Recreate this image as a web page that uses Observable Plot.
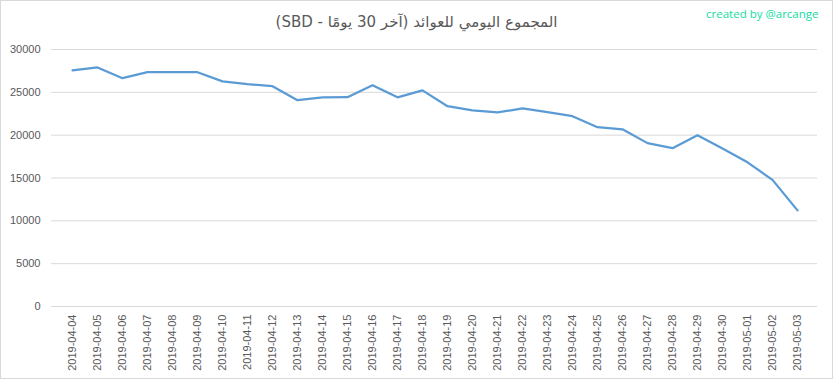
<!DOCTYPE html>
<html><head><meta charset="utf-8">
<script src="https://cdn.jsdelivr.net/npm/d3@7"></script>
<script src="https://cdn.jsdelivr.net/npm/@observablehq/plot@0.6"></script>
<style>
body{margin:0;background:#fff}
#chart svg{outline:1px solid #d9d9d9;outline-offset:-1px;display:block}
</style>
</head><body><div id="chart"></div>
<script>
const dates = ["2019-04-04","2019-04-05","2019-04-06","2019-04-07","2019-04-08","2019-04-09","2019-04-10","2019-04-11","2019-04-12","2019-04-13","2019-04-14","2019-04-15","2019-04-16","2019-04-17","2019-04-18","2019-04-19","2019-04-20","2019-04-21","2019-04-22","2019-04-23","2019-04-24","2019-04-25","2019-04-26","2019-04-27","2019-04-28","2019-04-29","2019-04-30","2019-05-01","2019-05-02","2019-05-03"];
const values = [27550,27900,26650,27350,27350,27350,26280,25950,25720,24080,24420,24430,25830,24420,25230,23380,22900,22650,23120,22700,22210,20930,20680,19070,18480,20000,18450,16830,14780,11220];
const yTicks = [0,5000,10000,15000,20000,25000,30000];
const title = "المجموع اليومي للعوائد (آخر 30 يومًا - SBD)";
const credit = "created by @arcange";

const data = dates.map((d, i) => ({date: d, value: values[i]}));

const chart = Plot.plot({
  width: 833,
  height: 379,
  marginTop: 49,
  marginBottom: 73,
  marginLeft: 51,
  marginRight: 16,
  style: {fontFamily: "'Liberation Sans', Arial, sans-serif", fontSize: "11px", color: "#595959", background: "#fff"},
  x: {type: "point", domain: dates, padding: 0.5, label: null},
  y: {domain: [0, 30000], label: null},
  marks: [
    Plot.gridY(yTicks, {stroke: "#d9d9d9", strokeOpacity: 1, strokeWidth: 1}),
    Plot.axisY(yTicks, {tickSize: 0, tickPadding: 11, label: null, fill: "#595959", fontSize: 11, tickFormat: d3.format("d")}),
    Plot.axisX({tickSize: 0, tickPadding: 8, tickRotate: -90, label: null, fill: "#595959", fontSize: 11}),
    Plot.line(data, {x: "date", y: "value", stroke: "#5b9bd5", strokeWidth: 2.25, strokeLinejoin: "round", strokeLinecap: "round"}),
    Plot.text([title], {frameAnchor: "top", dx: -18, dy: -27, lineAnchor: "middle", text: d => d, fontSize: 15, fill: "#595959", fontFamily: "'DejaVu Sans', sans-serif", className: "rtl-title"}),
    Plot.text([credit], {frameAnchor: "top-right", dx: 1, dy: -35, lineAnchor: "middle", textAnchor: "end", text: d => d, fontSize: 11.5, fill: "#12dca2", fontFamily: "'Open Sans', sans-serif"})
  ]
});
d3.select(chart).selectAll(".rtl-title text").attr("direction", "rtl").style("direction", "rtl").style("unicode-bidi", "embed");
document.getElementById("chart").appendChild(chart);
</script>
</body></html>
